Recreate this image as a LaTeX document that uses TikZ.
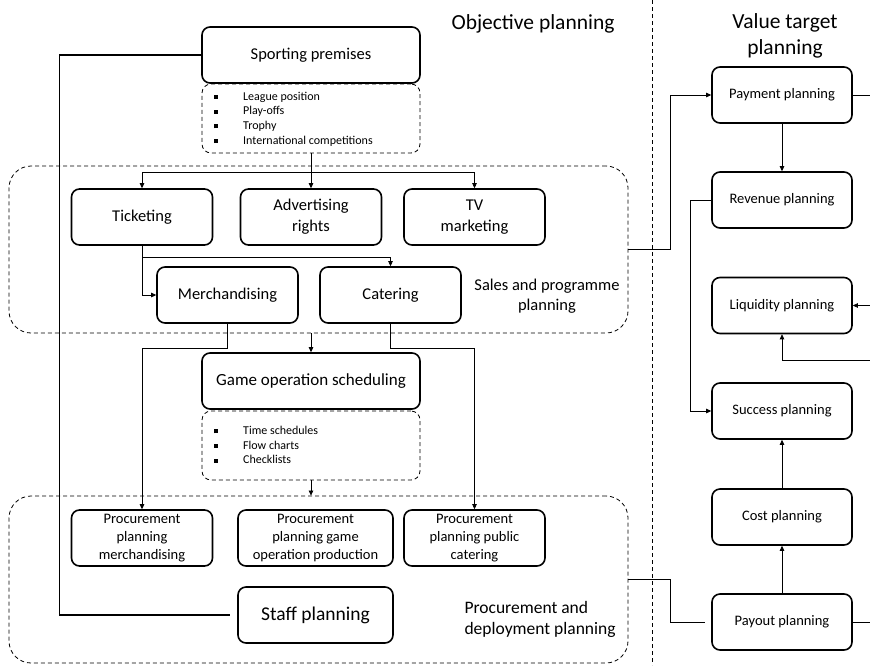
\documentclass[tikz,border=0pt]{standalone}
\usepackage{fontspec}
\setmainfont{Carlito}
\usetikzlibrary{arrows.meta,positioning}
\newcommand{\sqb}{\makebox[29pt][l]{\rule[0.2ex]{4pt}{4pt}}}
\newcommand{\fs}[2]{\fontsize{#1}{#2}\selectfont}
\begin{document}
\begin{tikzpicture}[x=1pt,y=-1pt,
  box/.style={draw,line width=1.6pt,rounded corners=8pt,align=center,inner sep=0pt,
    minimum width=141pt,minimum height=56pt,font=\fs{16.5}{21}},
  wide/.style={box,minimum width=218pt},
  prc/.style={box,font=\fs{14.5}{18}},
  vt/.style={box,minimum width=140pt,font=\fs{14.5}{18}},
  dsh/.style={line width=0.8pt,dash pattern=on 4pt off 3pt},
  bul/.style={draw,dsh,rounded corners=9pt,minimum width=218pt,minimum height=69pt,inner sep=0pt},
  group/.style={draw,dsh,rounded corners=22pt,minimum width=619pt,minimum height=167pt,inner sep=0pt},
  items/.style={anchor=west,align=left,inner sep=0pt,font=\fs{12}{14.7}},
  arr/.style={-{Triangle[length=5pt,width=4.5pt]},line width=0.7pt},
  conn/.style={line width=0.7pt},
  title/.style={align=center,font=\fs{21.5}{26}}]
\useasboundingbox (0,0) rectangle (870,665);
% titles and divider
\node[title,anchor=base] (objt) at (533,29) {Objective planning};
\node[title] (valt) at (785,36) {Value target\\planning};
\coordinate (divtop) at (652,0); \coordinate (divbot) at (652,665);
\draw[dsh] (divtop) -- (divbot);
% groups
\node[group] (sales) at (318.5,249.5) {};
\node[group] (proc) at (318.5,579.5) {};
\node[font=\fs{16.5}{19.5},align=center] (salesl) at (547,296) {Sales and programme\\planning};
\node[font=\fs{17.5}{21},align=left,anchor=west] (procl) at (461,619.5) {Procurement and\\deployment planning};
% sporting premises
\node[wide] (sport) at (311,55) {Sporting premises};
\node[bul] (spbul) at (311,118.5) {};
\node[items] (spitems) at (214,119) {\sqb League position\\\sqb Play-offs\\\sqb Trophy\\\sqb International competitions};
% sales and programme
\node[box] (tick) at (142,217) {Ticketing};
\node[box] (adv) at (311,217) {Advertising\\rights};
\node[box] (tv) at (474.5,217) {TV\\marketing};
\node[box] (merch) at (227.5,295) {Merchandising};
\node[box] (cat) at (390.5,295) {Catering};
% game operation
\node[wide,font=\fs{17}{21}] (game) at (311,381) {Game operation scheduling};
\node[bul] (gobul) at (311,445.5) {};
\node[items] (goitems) at (214,445) {\sqb Time schedules\\\sqb Flow charts\\\sqb Checklists};
% procurement and deployment
\node[prc] (pm) at (142,538) {Procurement\\planning\\merchandising};
\node[prc,minimum width=155pt] (pg) at (315.5,538) {Procurement\\planning game\\operation production};
\node[prc] (pc) at (474.5,538) {Procurement\\planning public\\catering};
\node[box,minimum width=155pt,font=\fs{19.5}{23}] (staff) at (315.5,615) {Staff planning};
% value target planning
\node[vt] (pay) at (782,95) {Payment planning};
\node[vt] (rev) at (782,200) {Revenue planning};
\node[vt] (liq) at (782,305.5) {Liquidity planning};
\node[vt] (succ) at (782,411) {Success planning};
\node[vt] (cost) at (782,517) {Cost planning};
\node[vt] (pout) at (782,622) {Payout planning};
\coordinate (eA) at (870,95);
\coordinate (eB) at (870,305.5);
\coordinate (eC) at (870,360);
\coordinate (eD) at (870,622);
% connectors left
\coordinate (split) at (311,172);
\draw[conn,line width=1.3pt] (sport.west) -- ++(-142,0) |- ([xshift=-7pt]staff.west);
\draw[arr] (spbul.south) -- (adv.north);
\draw[arr] (split) -| (tick.north);
\draw[arr] (split) -| (tv.north);
\draw[arr] (tick.south) -- ++(0,12) -| (cat.north);
\draw[arr] (tick.south) |- (merch.west);
\draw[arr] (merch.south) -- ++(0,25) -| (pm.north);
\draw[arr] (cat.south) -- ++(0,25) -| (pc.north);
\draw[arr] (game.north |- sales.south) -- (game.north);
\draw[arr] (gobul.south) -- (gobul.south |- proc.north);
% connectors right
\draw[arr] (sales.east) -- ++(42,0) |- (pay.west);
\draw[conn] (proc.east) -- ++(42,0) |- ([xshift=-6pt]pout.west);
\draw[arr] (pay.south) -- (rev.north);
\draw[arr] (rev.west) -- ++(-21,0) |- (succ.west);
\draw[arr] (cost.north) -- (succ.south);
\draw[arr] (pout.north) -- (cost.south);
\draw[conn] (pay.east) -- (eA);
\draw[arr] (eB) -- (liq.east);
\draw[arr] (eC) -| (liq.south);
\draw[conn] (pout.east) -- (eD);
\end{tikzpicture}
\end{document}
